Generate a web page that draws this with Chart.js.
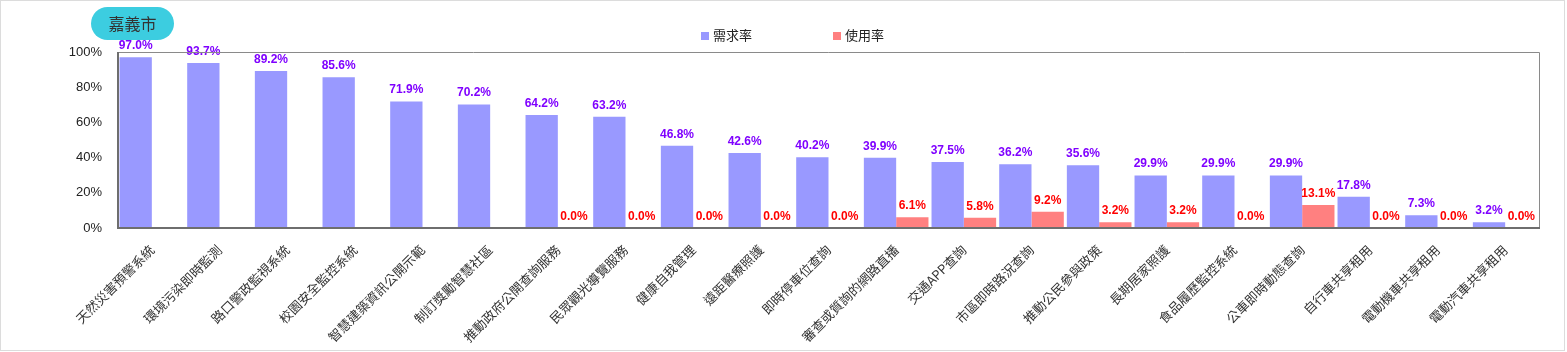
<!DOCTYPE html>
<html>
<head>
<meta charset="utf-8">
<script src="https://cdn.jsdelivr.net/npm/chart.js@4.4.0/dist/chart.umd.min.js"></script>
<style>
    body { margin: 0; background: #fff; }
    .frame { position: relative; width: 1563px; height: 349px; border: 1px solid #dcdcdc; }
    canvas { position: absolute; left: 0; top: 0; }
    .badge {
        position: absolute; left: 90px; top: 6px; width: 83px; height: 33px;
        border-radius: 17px; background: #3ccde0; color: #333;
        font: 16px "Noto Sans CJK TC", sans-serif; line-height: 33px; text-align: center;
    }
    .legend-item {
        position: absolute; top: 24px; height: 16px; line-height: 16px;
        font: 13px "Noto Sans CJK TC", sans-serif; color: #222;
    }
    .legend-item i { display: inline-block; width: 8px; height: 8px; margin-right: 4px; vertical-align: 0px; }
</style>
</head>
<body>
<div class="frame">
    <canvas id="cityChart" width="1563" height="349"></canvas>
    <div class="badge">嘉義市</div>
    <div class="legend-item" style="left:700px"><i style="background:#9999ff"></i>需求率</div>
    <div class="legend-item" style="left:832px"><i style="background:#ff8080"></i>使用率</div>
</div>
<script>
/* data */
var categories = [
    '天然災害預警系統', '環境污染即時監測', '路口警政監視系統', '校園安全監控系統',
    '智慧建築資訊公開示範', '制訂獎勵智慧社區', '推動政府公開查詢服務', '民眾觀光導覽服務',
    '健康自我管理', '遠距醫療照護', '即時停車位查詢', '審查或質詢的網路直播',
    '交通APP查詢', '市區即時路況查詢', '推動公民參與政策', '長期居家照護',
    '食品履歷監控系統', '公車即時動態查詢', '自行車共享租用', '電動機車共享租用', '電動汽車共享租用'
];
var demandRate = [97.0, 93.7, 89.2, 85.6, 71.9, 70.2, 64.2, 63.2, 46.8, 42.6, 40.2, 39.9, 37.5, 36.2, 35.6, 29.9, 29.9, 29.9, 17.8, 7.3, 3.2];
var usageRate = [null, null, null, null, null, null, 0.0, 0.0, 0.0, 0.0, 0.0, 6.1, 5.8, 9.2, 3.2, 3.2, 0.0, 13.1, 0.0, 0.0, 0.0];
var yTicks = [0, 20, 40, 60, 80, 100];

/* value labels above bars */
var valueLabels = {
    id: 'valueLabels',
    afterDatasetsDraw: function (chart) {
        var ctx = chart.ctx;
        ctx.save();
        ctx.font = 'bold 12px "Liberation Sans", Arial, sans-serif';
        ctx.textAlign = 'center';
        ctx.textBaseline = 'alphabetic';
        chart.data.datasets.forEach(function (ds, i) {
            var meta = chart.getDatasetMeta(i);
            ctx.fillStyle = ds.labelColor;
            meta.data.forEach(function (bar, j) {
                var v = ds.data[j];
                if (v === null || v === undefined) return;
                ctx.fillText(v.toFixed(1) + '%', bar.x, bar.y - 8);
            });
        });
        ctx.restore();
    }
};

/* plot frame: thin top/right, heavier left/bottom */
var plotFrame = {
    id: 'plotFrame',
    afterDraw: function (chart) {
        var a = chart.chartArea, ctx = chart.ctx;
        var l = Math.round(a.left), r = Math.round(a.right), t = Math.round(a.top), b = Math.round(a.bottom);
        ctx.save();
        ctx.strokeStyle = '#8a8a8a';
        ctx.lineWidth = 1;
        ctx.beginPath();
        ctx.moveTo(l, t + 0.5); ctx.lineTo(r + 0.5, t + 0.5); ctx.lineTo(r + 0.5, b);
        ctx.stroke();
        ctx.strokeStyle = '#6e6e6e';
        ctx.lineWidth = 2;
        ctx.beginPath();
        ctx.moveTo(l, t); ctx.lineTo(l, b); ctx.lineTo(r + 1, b);
        ctx.stroke();
        ctx.restore();
    }
};

new Chart(document.getElementById('cityChart'), {
    type: 'bar',
    data: {
        labels: categories,
        datasets: [
            { label: '需求率', data: demandRate, backgroundColor: '#9999ff', labelColor: '#7f00ff',
              categoryPercentage: 0.955, barPercentage: 1 },
            { label: '使用率', data: usageRate, backgroundColor: '#ff8080', labelColor: '#ff0000',
              categoryPercentage: 0.955, barPercentage: 1 }
        ]
    },
    options: {
        responsive: false,
        devicePixelRatio: 1,
        animation: false,
        layout: { padding: { top: 51, right: 25, left: 0, bottom: 0 } },
        plugins: { legend: { display: false }, tooltip: { enabled: false } },
        scales: {
            x: {
                grid: { display: false, drawTicks: false },
                border: { display: false },
                ticks: {
                    autoSkip: false, maxRotation: 45, minRotation: 45, padding: 14,
                    color: '#333', font: { family: '"Noto Sans CJK TC", sans-serif', size: 13 }
                },
                afterFit: function (s) { s.height = 122; }
            },
            y: {
                min: 0, max: 100,
                grid: { display: false, drawTicks: false },
                border: { display: false },
                afterBuildTicks: function (s) { s.ticks = yTicks.map(function (v) { return { value: v }; }); },
                ticks: {
                    padding: 16, color: '#222',
                    font: { family: '"Liberation Sans", Arial, sans-serif', size: 13 },
                    callback: function (v) { return v + '%'; }
                },
                afterFit: function (s) { s.width = 117; }
            }
        }
    },
    plugins: [valueLabels, plotFrame]
});
</script>
</body>
</html>
